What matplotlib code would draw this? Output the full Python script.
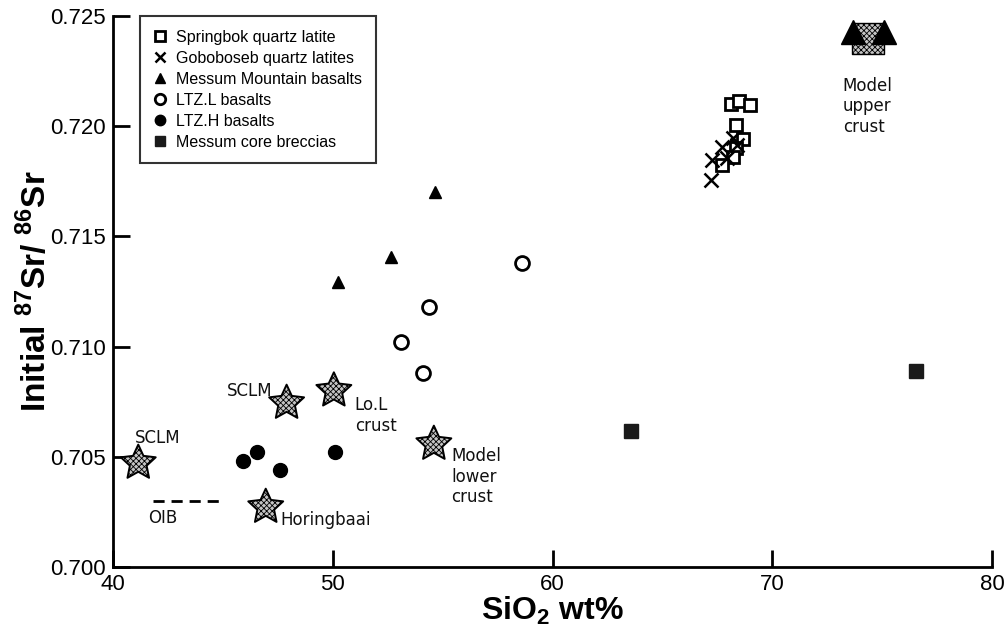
import numpy as np
import matplotlib.pyplot as plt
from matplotlib.path import Path

plt.rcParams['font.family'] = ['Liberation Sans', 'DejaVu Sans']
plt.rcParams['mathtext.fontset'] = 'custom'
plt.rcParams['mathtext.rm'] = 'Liberation Sans'
plt.rcParams['mathtext.bf'] = 'Liberation Sans:bold'
plt.rcParams['hatch.linewidth'] = 0.6

# data (SiO2 wt%, initial 87Sr/86Sr)
springbok_x = [68.1, 68.5, 69.0, 68.35, 68.65, 68.35, 68.2, 67.7]
springbok_y = [0.72101, 0.72115, 0.72096, 0.72005, 0.71942, 0.71901, 0.71860, 0.71824]
goboboseb_x = [67.2, 67.25, 67.7, 67.95, 68.2, 68.4]
goboboseb_y = [0.71756, 0.71845, 0.71906, 0.71856, 0.71946, 0.71915]
messum_mtn_x = [50.25, 52.65, 54.65]
messum_mtn_y = [0.71293, 0.71407, 0.71701]
ltzl_x = [58.6, 54.4, 53.1, 54.1]
ltzl_y = [0.71379, 0.71180, 0.71021, 0.70880]
ltzh_x = [45.9, 46.55, 47.6, 50.1]
ltzh_y = [0.70481, 0.70522, 0.70440, 0.70520]
breccia_x = [63.55, 76.55]
breccia_y = [0.70617, 0.70889]

star_x = [41.15, 47.9, 50.05, 54.6, 46.95]
star_y = [0.70472, 0.70744, 0.70800, 0.70558, 0.70272]
oib_x = [41.8, 45.0]
oib_y = [0.70300, 0.70300]
upper_tri_x = [73.65, 75.1]
upper_tri_y = [0.72428, 0.72428]
upper_box_x = [74.35]
upper_box_y = [0.72398]

# fatter five-pointed star than matplotlib's '*'
ang = np.pi / 2 + np.arange(10) * np.pi / 5
rad = np.where(np.arange(10) % 2 == 0, 1.0, 0.48)
star_verts = np.column_stack([rad * np.cos(ang), rad * np.sin(ang)])
star_verts = np.vstack([star_verts, star_verts[:1]])
star_marker = Path(star_verts, closed=True)

fig = plt.figure(figsize=(10.07, 6.37), dpi=100)
ax = fig.add_axes([0.1122, 0.1099, 0.873, 0.865])

ax.plot(springbok_x, springbok_y, 's', ms=9, mfc='white', mec='black', mew=2,
        ls='none', label='Springbok quartz latite')
ax.plot(goboboseb_x, goboboseb_y, 'x', ms=10, mec='black', mew=1.8,
        ls='none', label='Goboboseb quartz latites')
ax.plot(messum_mtn_x, messum_mtn_y, '^', ms=9, color='black',
        ls='none', label='Messum Mountain basalts')
ax.plot(ltzl_x, ltzl_y, 'o', ms=10, mfc='white', mec='black', mew=2,
        ls='none', label='LTZ.L basalts')
ax.plot(ltzh_x, ltzh_y, 'o', ms=10, color='black',
        ls='none', label='LTZ.H basalts')
ax.plot(breccia_x, breccia_y, 's', ms=9.5, color='#1a1a1a',
        ls='none', label='Messum core breccias')

# model reservoirs
ax.scatter(star_x, star_y, s=700, marker=star_marker, facecolor='#c4c4c4',
           edgecolor='black', linewidth=1.4, hatch='xxxxxx', zorder=3)
ax.plot(oib_x, oib_y, ls=(0, (4, 2.5)), color='black', lw=2)
ax.scatter(upper_box_x, upper_box_y, s=520, marker='s', facecolor='#c4c4c4',
           edgecolor='black', linewidth=1.0, hatch='xxxxxx', zorder=3)
ax.plot(upper_tri_x, upper_tri_y, '^', ms=17, color='black', ls='none', zorder=4)

ann = dict(fontsize=12, family=['DejaVu Sans'], color='#111111')
ax.text(73.2, 0.72225, 'Model\nupper\ncrust', va='top', ha='left', linespacing=1.2, **ann)
ax.text(41.0, 0.70585, 'SCLM', ha='left', va='center', **ann)
ax.text(45.2, 0.70800, 'SCLM', ha='left', va='center', **ann)
ax.text(51.0, 0.70775, 'Lo.L\ncrust', ha='left', va='top', linespacing=1.2, **ann)
ax.text(55.4, 0.70545, 'Model\nlower\ncrust', ha='left', va='top', linespacing=1.2, **ann)
ax.text(47.6, 0.70215, 'Horingbaai', ha='left', va='center', **ann)
ax.text(41.6, 0.70222, 'OIB', ha='left', va='center', **ann)

ax.set_xlim(40, 80)
ax.set_ylim(0.700, 0.725)
ax.set_xticks([40, 50, 60, 70, 80])
ax.set_yticks([0.700, 0.705, 0.710, 0.715, 0.720, 0.725])
ax.set_yticklabels(['0.700', '0.705', '0.710', '0.715', '0.720', '0.725'])
ax.tick_params(direction='in', length=12, width=2, labelsize=16, pad=5)
ax.spines['top'].set_visible(False)
ax.spines['right'].set_visible(False)
for s in ['left', 'bottom']:
    ax.spines[s].set_linewidth(2)

ax.set_xlabel(r'SiO$_\mathbf{2}$ wt%', fontsize=23, fontweight='bold', labelpad=0)
ax.set_ylabel(r'Initial $^\mathbf{87}$Sr/ $^\mathbf{86}$Sr', fontsize=24,
              fontweight='bold', labelpad=-2)

leg = ax.legend(loc='upper left', bbox_to_anchor=(0.031, 1.0), fontsize=11.5,
                frameon=True, fancybox=False, edgecolor='black',
                handlelength=0.8, handletextpad=0.6, labelspacing=0.38,
                borderpad=0.85, borderaxespad=0, markerscale=0.75)
leg.get_frame().set_linewidth(1.5)

fig.savefig('out.png', dpi=100)
